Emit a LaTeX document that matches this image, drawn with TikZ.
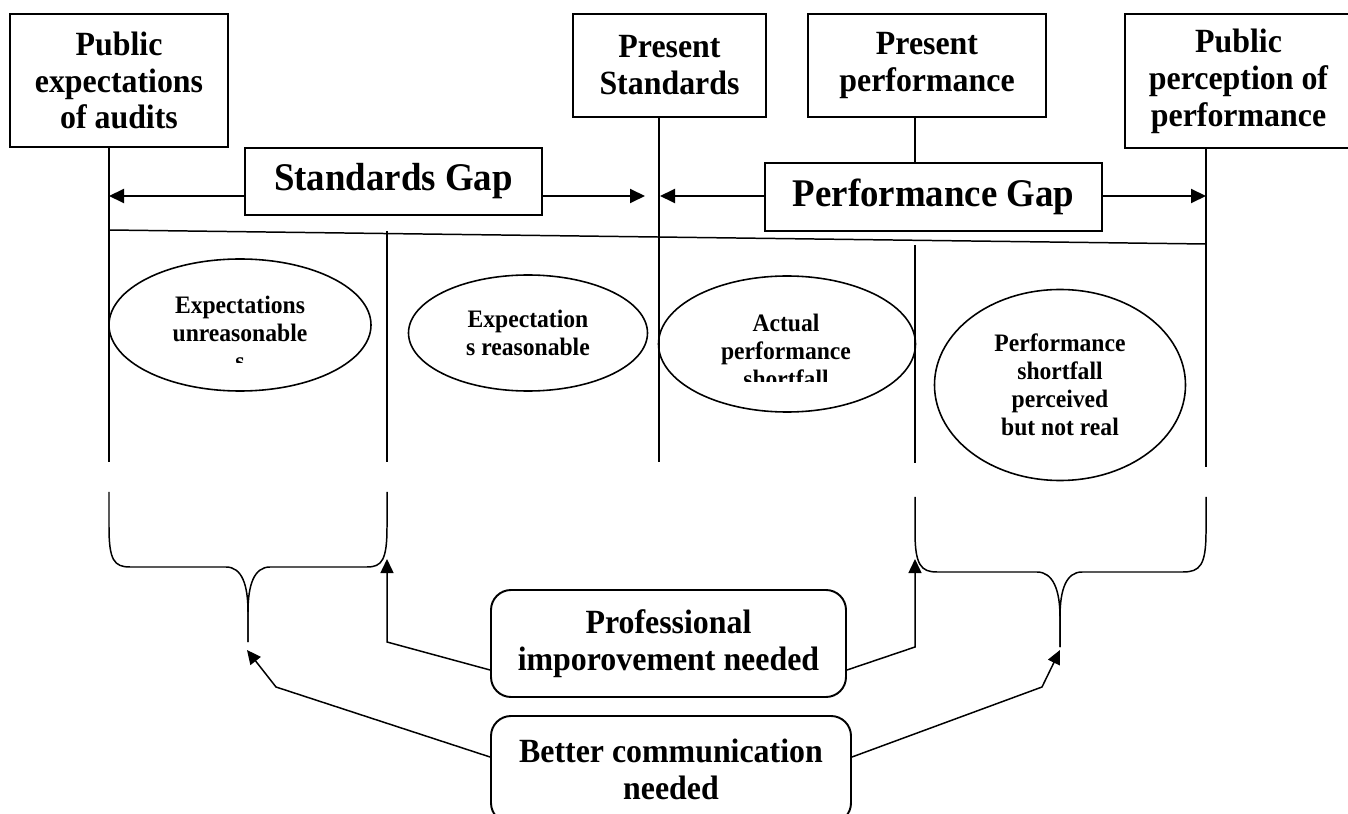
\documentclass[tikz,border=0pt]{standalone}
\usepackage{fontspec}
\setmainfont[FakeStretch=0.94]{Liberation Serif}
\usetikzlibrary{shapes.geometric,arrows.meta}

\begin{document}
\begin{tikzpicture}[x=0.2mm,y=-0.2mm,
  topbox/.style={draw,line width=1.1pt,inner sep=0pt,align=center,font=\bfseries\fontsize{19.3}{21}\selectfont},
  gapbox/.style={draw,line width=1.1pt,inner sep=0pt,font=\bfseries\fontsize{22.3}{25}\selectfont},
  oval/.style={draw,ellipse,line width=0.9pt,inner sep=0pt,align=center,font=\bfseries\fontsize{14.3}{15.9}\selectfont},
  ovaltext/.style={inner sep=0pt,align=center,font=\bfseries\fontsize{14.3}{15.9}\selectfont},
  needbox/.style={draw,rounded corners=4mm,line width=1.1pt,inner sep=0pt,align=center,font=\bfseries\fontsize{19.3}{21}\selectfont},
  thin/.style={line width=0.85pt},
  gaparrow/.style={line width=1.1pt,-{Triangle[length=3mm,width=2.8mm]}},
  arr/.style={line width=0.85pt,-{Triangle[length=2.8mm,width=2.6mm]}}]
\useasboundingbox (0,0) rectangle (1348,814);
\clip (0,0) rectangle (1348,814);

\node[topbox,minimum width=43.6mm,minimum height=26.6mm] (pubexp) at (119,80.5) {Public\\expectations\\of audits};
\node[topbox,minimum width=38.6mm,minimum height=20.6mm] (presstd) at (669.5,65.5) {Present\\Standards};
\node[topbox,minimum width=47.6mm,minimum height=20.6mm] (presperf) at (927,65.5) {Present\\performance};
\node[topbox,minimum width=45.4mm,minimum height=26.8mm] (pubperc) at (1238.5,81) {Public\\perception of\\performance};

\node[gapbox,minimum width=59.4mm,minimum height=13.4mm] (sgap) at (393.5,181.5) {Standards Gap};
\node[gapbox,minimum width=67.4mm,minimum height=13.6mm] (pgap) at (933.5,197) {Performance Gap};

\coordinate (la) at (109,462);
\coordinate (lb) at (659,462);
\coordinate (lc) at (915,163);
\coordinate (ld) at (1206,467);
\coordinate (sl) at (109,230);
\coordinate (sr) at (1206,244);
\coordinate (m1t) at (387,231);
\coordinate (m1b) at (387,462);
\coordinate (m2t) at (915,245);
\coordinate (m2b) at (915,463);
\coordinate (sgtl) at (109,196);
\coordinate (sgtr) at (645,196);
\coordinate (pgtl) at (660,196);
\coordinate (pgtr) at (1206,196);

\draw[thin] (pubexp.south -| la) -- (la);
\draw[thin] (presstd.south -| lb) -- (lb);
\draw[thin] (presperf.south -| lc) -- (lc);
\draw[thin] (pubperc.south -| ld) -- (ld);
\draw[thin] (sl) -- (sr);
\draw[thin] (m1t) -- (m1b);
\draw[thin] (m2t) -- (m2b);

\draw[gaparrow] (sgap.west |- sgtl) -- (sgtl);
\draw[gaparrow] (sgap.east |- sgtr) -- (sgtr);
\draw[gaparrow] (pgap.west |- pgtl) -- (pgtl);
\draw[gaparrow] (pgap.east |- pgtr) -- (pgtr);

\node[oval,minimum width=52.4mm,minimum height=26.4mm] (unreas) at (240,325) {};
\node[oval,minimum width=47.8mm,minimum height=23.2mm] (reas) at (528,333) {Expectation\\s reasonable};
\node[oval,minimum width=51.4mm,minimum height=27.2mm] (actual) at (787,344) {};
\node[oval,minimum width=50.2mm,minimum height=38.2mm] (notreal) at (1060,385) {Performance\\shortfall\\perceived\\but not real};
\begin{scope}
\clip (110,270) rectangle (370,363);
\node[ovaltext] (unreastext) at (240,333) {Expectations\\unreasonable\\s};
\end{scope}
\begin{scope}
\clip (660,280) rectangle (914,382);
\node[ovaltext] (actualtext) at (786,351) {Actual\\performance\\shortfall};
\end{scope}

\draw[thin] (109,492) -- (109,527) .. controls (109,560) and (114,567) .. (130,567) -- (226,567)
  .. controls (242,567) and (248,585) .. (248,612) -- (248,642);
\draw[thin] (387,492) -- (387,527) .. controls (387,560) and (382,567) .. (367,567) -- (270,567)
  .. controls (254,567) and (248,585) .. (248,612) -- (248,642);
\draw[thin] (915,497) -- (915,532) .. controls (915,565) and (921,572) .. (937,572) -- (1037,572)
  .. controls (1053,572) and (1060,590) .. (1060,617) -- (1060,647);
\draw[thin] (1206,497) -- (1206,532) .. controls (1206,565) and (1200,572) .. (1183,572) -- (1082,572)
  .. controls (1066,572) and (1060,590) .. (1060,617) -- (1060,647);

\node[needbox,minimum width=71mm,minimum height=21.4mm] (improve) at (668.5,643.5) {Professional\\imporovement needed};
\node[needbox,minimum width=72mm,minimum height=21.4mm] (communic) at (671,769.5) {Better communication\\needed};

\coordinate (p1) at (387,642);
\coordinate (p1tip) at (387,559);
\coordinate (p2) at (915,647);
\coordinate (p2tip) at (915,559);
\coordinate (b1) at (276,687);
\coordinate (b1tip) at (247,650);
\coordinate (b2) at (1042,687);
\coordinate (b2tip) at (1060,650);

\draw[arr] ([yshift=-5.3mm]improve.west) -- (p1) -- (p1tip);
\draw[arr] ([yshift=-5.3mm]improve.east) -- (p2) -- (p2tip);
\draw[arr] ([yshift=2.5mm]communic.west) -- (b1) -- (b1tip);
\draw[arr] ([yshift=2.5mm]communic.east) -- (b2) -- (b2tip);

\end{tikzpicture}
\end{document}
